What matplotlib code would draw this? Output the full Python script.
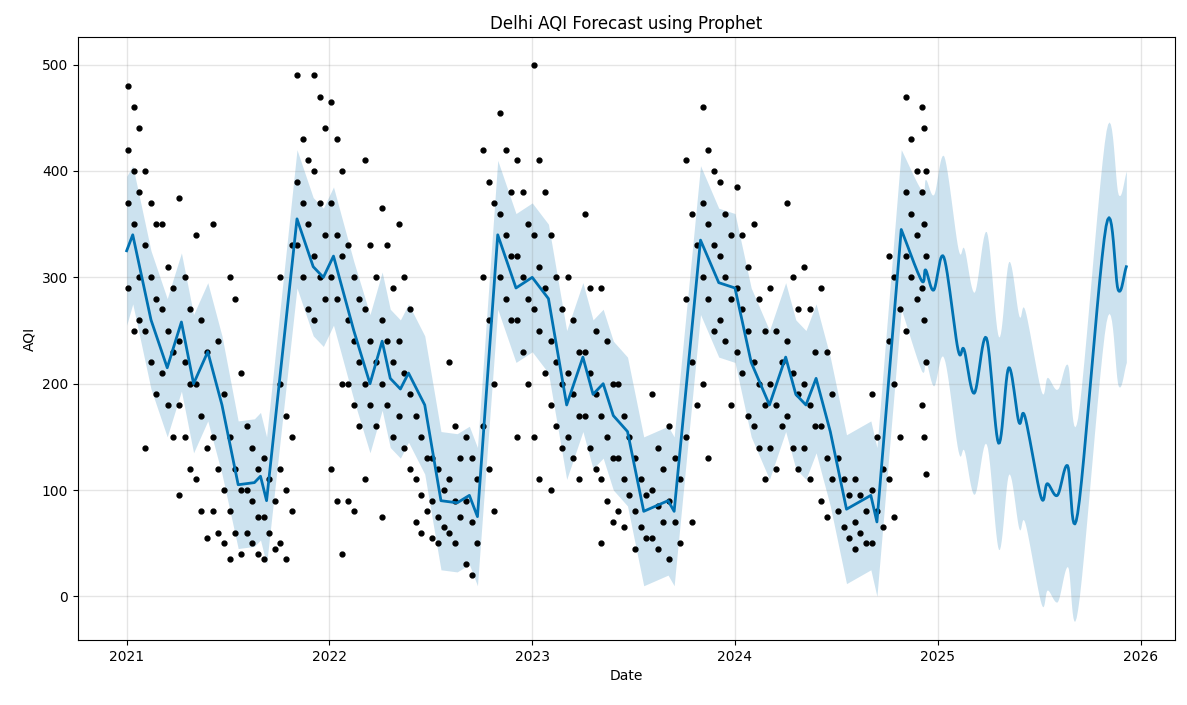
import matplotlib
matplotlib.use("Agg")
import matplotlib.pyplot as plt
import numpy as np

# observed AQI, one list per month starting 2021-01
monthly_obs = [
    [480, 460, 440, 420, 400, 380, 370, 350, 300, 290, 250, 260],
    [400, 370, 350, 330, 300, 280, 250, 220, 190, 140],
    [350, 310, 290, 270, 250, 230, 210, 180, 150],
    [375, 300, 270, 240, 220, 200, 180, 150, 120, 95],
    [340, 260, 230, 200, 170, 140, 110, 80, 55],
    [350, 240, 190, 150, 120, 100, 80, 60, 50],
    [300, 280, 210, 150, 120, 100, 80, 60, 40, 35],
    [160, 140, 120, 100, 90, 75, 60, 50, 40],
    [130, 110, 90, 75, 60, 45, 35],
    [200, 170, 150, 120, 100, 80, 50, 35, 330, 300],
    [490, 430, 410, 390, 370, 350, 330, 300, 270],
    [490, 470, 440, 400, 370, 340, 320, 300, 280, 260],
    [465, 430, 400, 370, 340, 320, 300, 280, 200, 120, 90, 40],
    [330, 300, 280, 260, 240, 220, 200, 180, 160, 90, 80],
    [410, 330, 300, 270, 240, 220, 200, 180, 160, 110],
    [365, 330, 290, 260, 240, 220, 200, 180, 150, 75],
    [350, 300, 270, 240, 210, 190, 170, 140, 120],
    [170, 150, 130, 110, 95, 80, 70, 60],
    [130, 120, 100, 90, 75, 65, 55, 50],
    [220, 160, 130, 110, 90, 75, 60, 50],
    [150, 130, 110, 90, 70, 50, 30, 20],
    [420, 390, 370, 300, 260, 200, 160, 120, 80],
    [455, 420, 380, 360, 340, 320, 300, 280, 260],
    [410, 380, 350, 320, 300, 280, 260, 230, 200, 150],
    [500, 410, 380, 340, 310, 290, 270, 250, 210, 150, 110],
    [340, 300, 270, 240, 220, 200, 180, 160, 140, 100],
    [300, 260, 230, 210, 190, 170, 150, 130, 110],
    [360, 290, 250, 230, 210, 190, 170, 140, 120],
    [290, 240, 200, 170, 150, 130, 110, 90, 70, 50],
    [200, 170, 150, 130, 110, 95, 80, 65],
    [130, 110, 95, 80, 65, 55, 45],
    [190, 140, 120, 100, 85, 70, 55, 45],
    [160, 130, 110, 90, 70, 50, 35],
    [410, 360, 330, 280, 220, 180, 150, 70],
    [460, 420, 400, 370, 350, 330, 300, 280, 250, 200, 130],
    [390, 360, 340, 320, 300, 280, 260, 240, 180],
    [385, 340, 310, 290, 270, 250, 230, 210, 170],
    [350, 280, 250, 220, 200, 180, 160, 140, 110],
    [290, 250, 220, 200, 180, 160, 140, 120],
    [370, 300, 270, 240, 210, 190, 170, 140, 120],
    [310, 270, 230, 200, 180, 160, 140, 110],
    [290, 230, 190, 160, 130, 110, 90, 75],
    [130, 110, 95, 80, 65, 55],
    [110, 95, 80, 70, 60, 50, 45],
    [190, 150, 120, 100, 80, 65, 50],
    [320, 300, 270, 240, 200, 150, 110, 75],
    [470, 430, 400, 380, 360, 340, 320, 300, 280, 250],
    [460, 440, 400, 380, 350, 320, 290, 260, 220, 180, 150, 115],
]

# fitted part (decimal year, yhat, half-width of interval)
hist_t = [2021.00, 2021.03, 2021.12, 2021.20, 2021.27, 2021.33, 2021.40, 2021.47, 2021.55,
          2021.63, 2021.66, 2021.69, 2021.84, 2021.92, 2021.97, 2022.02, 2022.12, 2022.20,
          2022.26, 2022.30, 2022.35, 2022.39, 2022.47, 2022.55, 2022.63, 2022.69, 2022.73,
          2022.83, 2022.92, 2023.00, 2023.08, 2023.17, 2023.25, 2023.30, 2023.35, 2023.40,
          2023.47, 2023.55, 2023.67, 2023.70, 2023.83, 2023.92, 2024.00, 2024.08, 2024.17,
          2024.25, 2024.30, 2024.35, 2024.40, 2024.47, 2024.55, 2024.67, 2024.70, 2024.82]
hist_y = [325, 340, 260, 215, 258, 200, 230, 180, 105,
          107, 113, 90, 355, 310, 300, 320, 250, 200,
          240, 205, 195, 210, 180, 90, 88, 95, 75,
          340, 290, 300, 280, 180, 225, 190, 200, 170,
          155, 80, 90, 80, 335, 295, 290, 220, 180,
          225, 190, 180, 205, 155, 82, 95, 70, 345]
hist_w = [70, 65, 65, 65, 65, 65, 65, 65, 60,
          60, 60, 60, 65, 65, 65, 65, 65, 65,
          65, 65, 65, 65, 65, 65, 65, 65, 65,
          70, 70, 70, 70, 70, 70, 70, 70, 70,
          70, 70, 70, 70, 70, 70, 70, 70, 70,
          70, 70, 70, 70, 70, 70, 70, 70, 75]

# future part, smooth curve through these points
fut_t = [2024.82, 2024.92, 2024.94, 2024.98, 2025.03, 2025.10, 2025.13, 2025.18, 2025.24,
         2025.30, 2025.35, 2025.40, 2025.43, 2025.51, 2025.54, 2025.59, 2025.64, 2025.69,
         2025.83, 2025.89, 2025.93]
fut_y = [345, 297, 307, 288, 319, 232, 232, 191, 243,
         144, 215, 164, 169, 93, 106, 95, 123, 78,
         348, 288, 310]
fut_w = [75, 85, 85, 90, 95, 95, 95, 95, 100,
         100, 100, 100, 100, 100, 100, 100, 95, 90,
         90, 90, 90]


def smooth(t, y, n=12):
    # Catmull-Rom spline through the points
    t = np.asarray(t, float)
    y = np.asarray(y, float)
    pt = np.concatenate([[2 * t[0] - t[1]], t, [2 * t[-1] - t[-2]]])
    py = np.concatenate([[2 * y[0] - y[1]], y, [2 * y[-1] - y[-2]]])
    out_t, out_y = [], []
    for i in range(1, len(pt) - 2):
        s = np.linspace(0, 1, n, endpoint=False)
        for arr, out in ((pt, out_t), (py, out_y)):
            p0, p1, p2, p3 = arr[i - 1], arr[i], arr[i + 1], arr[i + 2]
            out.extend(0.5 * (2 * p1 + (-p0 + p2) * s + (2 * p0 - 5 * p1 + 4 * p2 - p3) * s ** 2
                              + (-p0 + 3 * p1 - 3 * p2 + p3) * s ** 3))
    out_t.append(t[-1])
    out_y.append(y[-1])
    return np.array(out_t), np.array(out_y)


days = [3, 13, 23]
xs, ys = [], []
for m, vals in enumerate(monthly_obs):
    last = m == len(monthly_obs) - 1
    for i, v in enumerate(vals):
        d = [2, 6, 9][i % 3] if last else days[i % 3]
        xs.append(2021 + m / 12 + d / 365)
        ys.append(v)

ft, fy = smooth(fut_t, fut_y)
fw = np.interp(ft, fut_t, fut_w)
t = np.concatenate([hist_t, ft[1:]])
y = np.concatenate([hist_y, fy[1:]])
w = np.concatenate([hist_w, fw[1:]])

fig = plt.figure(figsize=(11.87, 7.05), dpi=100)
ax = fig.add_axes([78 / 1187, 1 - 640 / 705, (1175 - 78) / 1187, (640 - 37) / 705])
ax.fill_between(t, y - w, y + w, color='#0072B2', alpha=0.2, lw=0)
ax.plot(xs, ys, 'k.', markersize=7)
ax.plot(t, y, ls='-', c='#0072B2', lw=2)
ax.grid(True, which='major', c='gray', ls='-', lw=1, alpha=0.2)
ax.set_xlim(2020.76, 2026.17)
ax.set_ylim(-41, 526)
ax.set_xticks([2021, 2022, 2023, 2024, 2025, 2026])
ax.set_xticklabels(['2021', '2022', '2023', '2024', '2025', '2026'])
ax.set_yticks([0, 100, 200, 300, 400, 500])
ax.set_xlabel('Date')
ax.set_ylabel('AQI')
ax.set_title('Delhi AQI Forecast using Prophet')
fig.savefig('out.png', dpi=100)
